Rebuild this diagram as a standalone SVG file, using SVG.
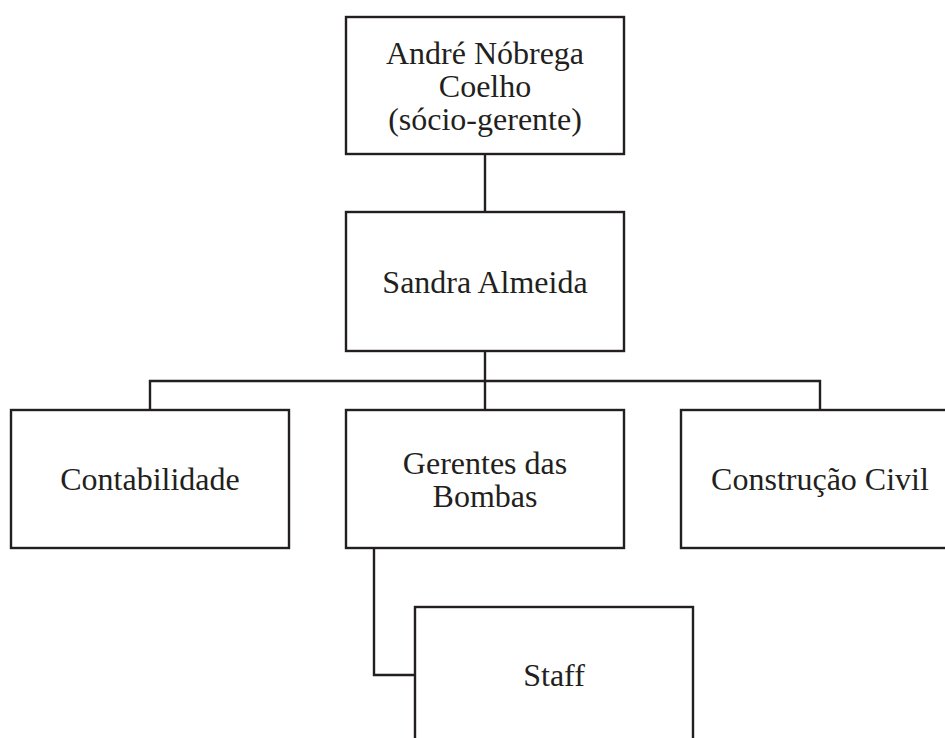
<svg xmlns="http://www.w3.org/2000/svg" width="945" height="738" viewBox="0 0 945 738">
<style>
.box{fill:#ffffff;stroke:#231f20;stroke-width:2.4}
.lbl{font-family:"Liberation Serif","Times New Roman",serif;font-size:32px;fill:#231f20;text-anchor:middle}
.conn{fill:none;stroke:#231f20;stroke-width:2.4}
</style>
<rect x="0" y="0" width="945" height="738" fill="#ffffff"/>
<g id="connectors">
<line class="conn" x1="485" y1="154" x2="485" y2="212"/>
<line class="conn" x1="485" y1="351" x2="485" y2="410"/>
<polyline class="conn" points="150,410 150,381 820,381 820,410"/>
<polyline class="conn" points="374,548 374,675 415,675"/>
</g>
<g id="node-andre">
<rect class="box" x="346" y="17" width="278" height="137"/>
<text class="lbl" x="485" y="63.5">André Nóbrega</text>
<text class="lbl" x="485" y="96.5">Coelho</text>
<text class="lbl" x="485" y="129.5">(sócio-gerente)</text>
</g>
<g id="node-sandra">
<rect class="box" x="346" y="212" width="278" height="139"/>
<text class="lbl" x="485" y="292.5">Sandra Almeida</text>
</g>
<g id="node-contabilidade">
<rect class="box" x="11" y="410" width="278" height="138"/>
<text class="lbl" x="150" y="490">Contabilidade</text>
</g>
<g id="node-gerentes">
<rect class="box" x="346" y="410" width="278" height="138"/>
<text class="lbl" x="485" y="473.5">Gerentes das</text>
<text class="lbl" x="485" y="506.5">Bombas</text>
</g>
<g id="node-construcao">
<rect class="box" x="681" y="410" width="278" height="138"/>
<text class="lbl" x="820" y="490">Construção Civil</text>
</g>
<g id="node-staff">
<rect class="box" x="415" y="607" width="278" height="140"/>
<text class="lbl" x="554" y="686">Staff</text>
</g>
</svg>
